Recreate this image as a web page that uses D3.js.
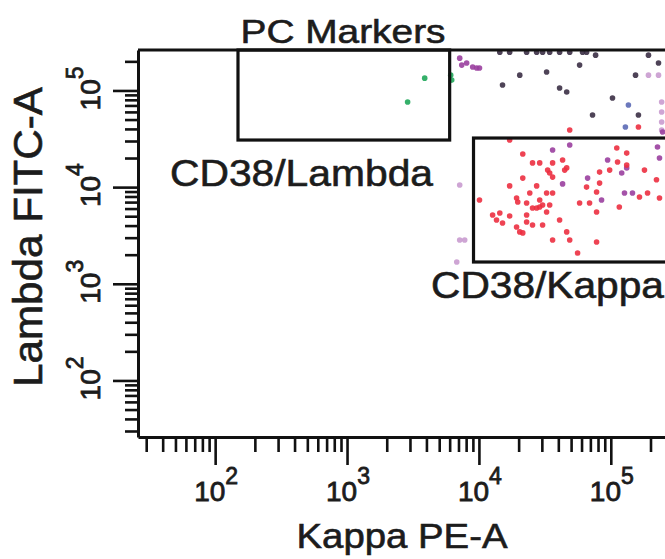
<!DOCTYPE html>
<html>
<head>
<meta charset="utf-8">
<script src="https://cdn.jsdelivr.net/npm/d3@7"></script>
<style>
  html, body { margin: 0; padding: 0; background: #fff; }
  svg { display: block; }
  text { font-family: "Liberation Sans", Arial, Helvetica, sans-serif; fill: #1c1c1c; }
</style>
</head>
<body>
<div id="chart"></div>
<script>
// --- data ---
const chartTitle = "PC Markers";
const xTitle = "Kappa PE-A";
const yTitle = "Lambda FITC-A";
const axisDomain = [26, 262144];
const majorExponents = [2, 3, 4, 5];

// gates: [kappa min, kappa max, lambda min, lambda max]
const lambdaGate = [149, 6000, 30700, 262144];
const kappaGate = [9100, 300000, 1680, 32200];
const gateLabels = ["CD38/Lambda", "CD38/Kappa"];

// events as [kappa, lambda]
const redCells = [
  [17100,30700],[21500,22000],[25500,17800],[28900,17800],[36200,17800],[43100,19100],[46300,15800],
  [33200,15000],[34400,14000],[36200,12700],[44700,15000],[21500,12400],[17100,10300],[27400,10300],
  [24300,8700],[32600,8700],[36200,8700],[19300,7730],[19700,7020],[23000,6860],[28900,7360],[30400,6530],
  [25500,6080],[27400,6080],[28900,6230],[32600,5530],[34400,6530],[23000,5150],[12700,5150],[14400,5400],
  [13600,4570],[15100,4260],[17100,5030],[19300,3870],[20400,3440],[21500,3360],[25500,4060],[30400,4060],
  [23000,4360],[40900,4570],[36200,2840],[46300,3440],[48800,2840],[56000,2080],[10100,7360],
  [58000,6860],[69000,6860],[78000,5530],[65500,10000],[82200,14300],[82200,11000],[78000,8900],
  [98000,15000],[112500,18200],[132000,22500],[132000,16900],[116000,6230],[165000,7900],[180000,15000],
  [190000,8700],[78000,2710],[111000,25400],[222000,11900],[234000,7730],[48800,39000],[162000,41900]
];
const purpleCells = [
  [36200,24200],[43100,10800],[66700,12400],[94600,19100],[127000,8700],[146000,8700],[85100,7360],
  [121000,14000],[132000,15800],[226000,26000],[234000,20000],[48800,27300],[247000,37200],
  [7150,216000],[7410,183000],[8070,192000],[8970,175000],[9620,171000],[10100,171000]
];
const darkCells = [
  [14400,249000],[17100,249000],[23000,249000],[27400,249000],[30400,249000],[34400,249000],
  [40900,249000],[48800,249000],[61100,249000],[65500,249000],[76700,232000],[15100,114000],
  [20400,144000],[32600,155000],[58000,183000],[40900,106000],[46300,96400],[103000,83600],
  [72700,55700],[162000,55700],[154000,144000],[230000,192000],[193000,232000]
];
const blueCells = [[136000,70600],[129000,41900]];
const paleCells = [
  [193000,144000],[230000,144000],[243000,75900],[243000,59800],[243000,47100],[243000,39000],
  [7150,10500],[7150,2840],[7800,2840],[6790,1680]
];
const greenCells = [[3880,134000],[2880,75900],[6110,144000],[6220,128000]];

// --- setup ---
const W = 665, H = 559;
const svg = d3.select("#chart").append("svg").attr("width", W).attr("height", H);

const x = d3.scaleLog().domain(axisDomain).range([138, 666]);
const y = d3.scaleLog().domain(axisDomain).range([437, 50]);

const majors = majorExponents.map(e => Math.pow(10, e));
const minors = [];
for (let d = 1; d <= 5; d++) {
  for (let k = 2; k <= 9; k++) {
    const v = k * Math.pow(10, d);
    if (v >= axisDomain[0] && v <= axisDomain[1]) minors.push(v);
  }
}

// --- events ---
const layers = [
  {data: paleCells, color: "#c99bcf"},
  {data: darkCells, color: "#3b2f45"},
  {data: purpleCells, color: "#9a3f9e"},
  {data: blueCells, color: "#5b69b5"},
  {data: redCells, color: "#ec2f40"},
  {data: greenCells, color: "#1fa75a"}
];
layers.forEach(l => {
  svg.append("g").selectAll("circle").data(l.data).enter().append("circle")
    .attr("cx", d => x(d[0])).attr("cy", d => y(d[1]))
    .attr("r", 2.8).attr("fill", l.color).attr("opacity", 0.9);
});

// --- gates ---
[lambdaGate, kappaGate].forEach(g => {
  svg.append("rect")
    .attr("x", x(g[0])).attr("y", y(g[3]))
    .attr("width", x(g[1]) - x(g[0])).attr("height", y(g[2]) - y(g[3]))
    .attr("fill", "none").attr("stroke", "#111").attr("stroke-width", 3.2);
});

// --- axes ---
const styleAxis = g => {
  g.selectAll(".tick line").attr("stroke", "#111").attr("stroke-width", 2.6);
  g.selectAll("text").remove();
};
svg.append("g").attr("transform", "translate(0,437)")
  .call(d3.axisBottom(x).tickValues(minors).tickSize(15).tickSizeOuter(0).tickFormat(""))
  .call(styleAxis)
  .call(g => g.select(".domain").attr("stroke", "#111").attr("stroke-width", 3));
svg.append("g").attr("transform", "translate(0,437)")
  .call(d3.axisBottom(x).tickValues(majors).tickSize(28).tickSizeOuter(0).tickFormat(""))
  .call(styleAxis)
  .call(g => g.select(".domain").remove());

svg.append("g").attr("transform", "translate(138,0)")
  .call(d3.axisLeft(y).tickValues(minors).tickSize(13).tickSizeOuter(0).tickFormat(""))
  .call(styleAxis)
  .call(g => g.select(".domain").attr("stroke", "#111").attr("stroke-width", 3));
svg.append("g").attr("transform", "translate(138,0)")
  .call(d3.axisLeft(y).tickValues(majors).tickSize(25).tickSizeOuter(0).tickFormat(""))
  .call(styleAxis)
  .call(g => g.select(".domain").remove());

// top frame line
svg.append("line").attr("x1", x(axisDomain[0])).attr("x2", W + 5)
  .attr("y1", y(axisDomain[1])).attr("y2", y(axisDomain[1]))
  .attr("stroke", "#111").attr("stroke-width", 3);

// tick labels 10^n
const powLabel = (sel, e) => {
  sel.append("tspan").text("10");
  sel.append("tspan").attr("dy", -17).attr("font-size", 23).text(e);
};
majorExponents.forEach((e, i) => {
  svg.append("text").attr("x", x(majors[i]) + 1).attr("y", 501)
    .attr("text-anchor", "middle").attr("font-size", 28)
    .attr("stroke", "#1c1c1c").attr("stroke-width", 0.8)
    .call(powLabel, e);
  svg.append("text").attr("transform", `translate(100,${y(majors[i]) - 2}) rotate(-90)`)
    .attr("text-anchor", "middle").attr("font-size", 28)
    .attr("stroke", "#1c1c1c").attr("stroke-width", 0.8)
    .call(powLabel, e);
});

// titles
const strongText = sel => sel.attr("stroke", "#1c1c1c").attr("stroke-width", 0.6);
svg.append("text").attr("x", 343).attr("y", 43).attr("text-anchor", "middle")
  .attr("font-size", 34).attr("textLength", 205).attr("lengthAdjust", "spacingAndGlyphs")
  .call(strongText).text(chartTitle);
svg.append("text").attr("x", 402).attr("y", 548).attr("text-anchor", "middle")
  .attr("font-size", 35).attr("textLength", 211).attr("lengthAdjust", "spacingAndGlyphs")
  .call(strongText).text(xTitle);
svg.append("text").attr("transform", "translate(42,237) rotate(-90)").attr("text-anchor", "middle")
  .attr("font-size", 40).attr("textLength", 300).attr("lengthAdjust", "spacingAndGlyphs")
  .call(strongText).text(yTitle);

// gate labels
svg.append("text").attr("x", 170).attr("y", 186)
  .attr("font-size", 36).attr("textLength", 263).attr("lengthAdjust", "spacingAndGlyphs")
  .call(strongText).text(gateLabels[0]);
svg.append("text").attr("x", 431).attr("y", 298)
  .attr("font-size", 36).attr("textLength", 233).attr("lengthAdjust", "spacingAndGlyphs")
  .call(strongText).text(gateLabels[1]);
</script>
</body>
</html>
